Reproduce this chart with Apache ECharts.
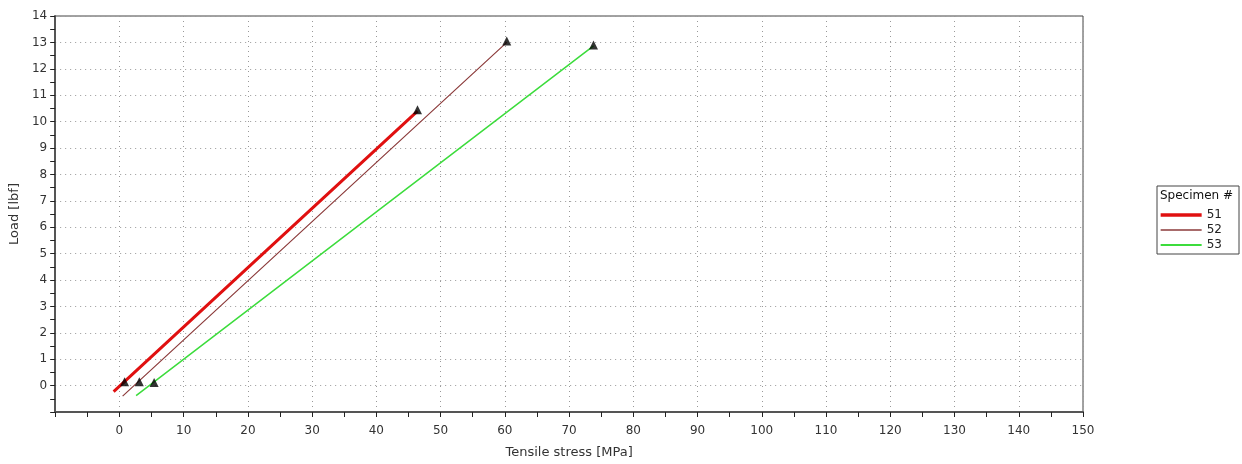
<!DOCTYPE html>
<html><head><meta charset="utf-8">
<script src="https://cdn.jsdelivr.net/npm/echarts@6/dist/echarts.min.js"></script>
<style>html,body{margin:0;padding:0;background:#fff}#c{width:1242px;height:464px}</style>
</head><body><div id="c"></div>
<script>
const specimens = ['51', '52', '53'];
const colors = ['#e01010', '#8b3a3a', '#3cdc3c'];
const widths = [3, 1.2, 1.5];
const s51 = [[-0.9, -0.23], [20, 4.47], [46.4, 10.4]];
const s52 = [[0.5, -0.4], [30, 6.21], [60.3, 13.0]];
const s53 = [[2.6, -0.38], [40, 6.58], [73.8, 12.87]];
const markers = [[0.8, 0.15], [46.4, 10.45], [3.1, 0.15], [60.3, 13.05], [5.4, 0.12], [73.8, 12.9]];
const xTicks = {min: -10, max: 150, interval: 10};
const yTicks = {min: -1, max: 14, interval: 1};

const font = 'DejaVu Sans, Verdana, sans-serif';
const chart = echarts.init(document.getElementById('c'), null, {renderer: 'canvas'});
const lineData = [s51, s52, s53];
const series = specimens.map((name, i) => ({
  name, type: 'line', data: lineData[i], symbol: 'none',
  lineStyle: {color: colors[i], width: widths[i]}, itemStyle: {color: colors[i]},
  z: 2, animation: false
}));
series.push({
  name: 'ends', type: 'scatter', data: markers, symbol: 'triangle', symbolSize: 9,
  itemStyle: {color: '#000'}, z: 5, animation: false
});
chart.setOption({
  animation: false,
  textStyle: {fontFamily: font},
  grid: {left: 51, right: 159, top: 16, bottom: 51, show: true, borderColor: '#444', borderWidth: 1},
  legend: {
    data: specimens.map((name, i) => ({name, lineStyle: {width: widths[i] + 0.3, color: colors[i]}})),
    orient: 'vertical', left: 1159, top: 209, itemGap: 3, padding: 0,
    itemWidth: 41, itemHeight: 11,
    itemStyle: {opacity: 0},
    textStyle: {fontFamily: font, fontSize: 12, color: '#222', width: 28, align: 'right'}
  },
  graphic: [
    {type: 'rect', shape: {x: 1157, y: 186, width: 82, height: 68},
     style: {fill: 'none', stroke: '#444', lineWidth: 1}},
    {type: 'text', left: 1160, top: 190, style: {text: 'Specimen #', font: '12px ' + font, fill: '#111'}}
  ],
  xAxis: {
    type: 'value', min: xTicks.min, max: xTicks.max, interval: xTicks.interval,
    name: 'Tensile stress [MPa]', nameLocation: 'middle', nameGap: 34,
    nameTextStyle: {fontFamily: font, fontSize: 13, color: '#333'},
    axisLine: {onZero: false, lineStyle: {color: '#555', width: 2}},
    axisTick: {show: true, length: 5, lineStyle: {color: '#222'}},
    minorTick: {show: true, splitNumber: 2, length: 5, lineStyle: {color: '#222'}},
    axisLabel: {fontFamily: font, fontSize: 12, color: '#333', margin: 13,
      formatter: v => v < 0 ? '' : String(v)},
    splitLine: {show: true, lineStyle: {color: '#999', type: [1, 4], width: 1}}
  },
  yAxis: {
    type: 'value', min: yTicks.min, max: yTicks.max, interval: yTicks.interval,
    name: 'Load [lbf]', nameLocation: 'middle', nameGap: 33,
    nameTextStyle: {fontFamily: font, fontSize: 13, color: '#333'},
    axisLine: {show: true, onZero: false, lineStyle: {color: '#555', width: 2}},
    axisTick: {show: true, length: 5, lineStyle: {color: '#222'}},
    minorTick: {show: true, splitNumber: 2, length: 5, lineStyle: {color: '#222'}},
    axisLabel: {fontFamily: font, fontSize: 12, color: '#333', margin: 8,
      formatter: v => v < 0 ? '' : String(v)},
    splitLine: {show: true, lineStyle: {color: '#999', type: [1, 4], width: 1}}
  },
  series
});
</script></body></html>
